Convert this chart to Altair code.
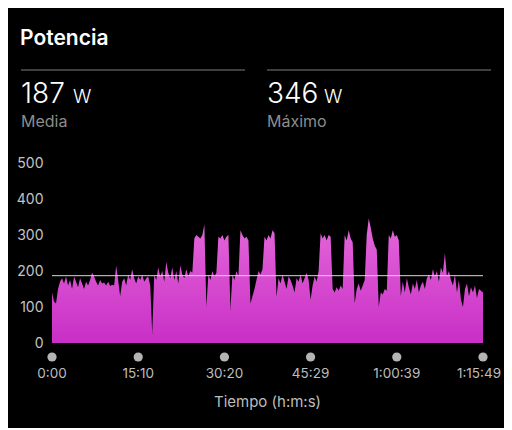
import altair as alt
import pandas as pd

# ---- data ----
total_seconds = 4549
power = [
    140, 115, 110, 150, 170,
    180, 165, 185, 160, 175, 150, 185, 170, 155, 180, 165, 150, 170, 160, 175, 195, 185,
    170, 160, 175, 165, 168, 160, 170, 158, 162, 160, 215,
    175, 130, 170, 180, 160, 190, 175, 205, 180, 165, 185, 175, 190, 170, 180, 185, 160,
    25,
    190, 175, 210, 185, 200, 170, 225, 195, 180, 210, 175, 200, 165, 215, 190, 180, 205, 185, 200, 195,
    290, 300, 295, 290, 300, 330,
    100,
    190, 175, 200, 185, 195,
    295, 290, 300, 285, 295, 300,
    92,
    190, 175, 200, 185,
    313, 300, 290, 295, 285, 110,
    130, 150, 175, 200, 190, 205,
    295, 285, 300, 290, 313, 305,
    128,
    180, 165, 190, 170, 150, 185, 175, 160, 140, 180, 170, 190, 165, 180, 195, 175, 120, 160, 185, 170, 200,
    305, 290, 300, 285, 300, 295,
    150, 140, 155, 145, 160, 150,
    300, 285, 313, 290, 280,
    110,
    150, 165, 145, 160, 175,
    300, 346, 320, 290, 270, 260,
    100,
    140, 135, 150, 145,
    300, 290, 313, 295, 300, 285,
    130, 170, 140, 180, 155, 135, 165, 150, 175, 140, 160, 170, 150, 180,
    190, 175, 205, 185, 200, 170, 210, 195, 250, 185, 200, 175,
    160, 190, 140, 175, 120, 100, 150, 165,
    130, 155, 140, 160, 125, 150, 145, 140,
]
n = len(power)
times = [i * total_seconds / (n - 1) for i in range(n)]

tick_seconds = [0, 910, 1820, 2729, 3639, 4549]
tick_labels = ["0:00", "15:10", "30:20", "45:29", "1:00:39", "1:15:49"]
y_ticks = [0, 100, 200, 300, 400, 500]

mean_power = 187
max_power = 346

df = pd.DataFrame({"t": times, "p": power})
ticks_df = pd.DataFrame({"t": tick_seconds, "label": tick_labels})
mean_df = pd.DataFrame({"p": [mean_power]})

FONT = "Inter"

xscale = alt.Scale(domain=[0, total_seconds], nice=False, zero=False)
yscale = alt.Scale(domain=[0, 500], nice=False)
y_axis = alt.Axis(values=y_ticks, title=None, domain=False, ticks=False,
                  grid=False, labelColor="#c4c4c4", labelFontSize=14,
                  labelFont=FONT, labelPadding=9, labelOverlap=False,
                  labelFlush=False)

area = alt.Chart(df).mark_area(
    color=alt.Gradient(
        gradient="linear",
        stops=[alt.GradientStop(color="#c92fc6", offset=0),
               alt.GradientStop(color="#e468da", offset=1)],
        x1=1, x2=1, y1=1, y2=0,
    ),
    interpolate="linear",
).encode(
    x=alt.X("t:Q", scale=xscale, axis=None),
    y=alt.Y("p:Q", scale=yscale, axis=y_axis),
)

mean_rule = alt.Chart(mean_df).mark_rule(color="#d9d9d9", strokeWidth=1).encode(
    y=alt.Y("p:Q", scale=yscale, axis=y_axis),
)

dots = alt.Chart(ticks_df).mark_circle(color="#b4b4b4", opacity=1, size=85).encode(
    x=alt.X("t:Q", scale=xscale, axis=None),
    y=alt.value(194),
)

tick_text = alt.Chart(ticks_df).mark_text(
    color="#bdbdbd", fontSize=13.5, font=FONT, baseline="middle", align="center"
).encode(
    x=alt.X("t:Q", scale=xscale, axis=None),
    y=alt.value(211),
    text="label:N",
).transform_filter(alt.datum.t < total_seconds)

last_tick_text = alt.Chart(ticks_df).mark_text(
    color="#bdbdbd", fontSize=13.5, font=FONT, baseline="middle", align="center", dx=-4
).encode(
    x=alt.X("t:Q", scale=xscale, axis=None),
    y=alt.value(211),
    text="label:N",
).transform_filter(alt.datum.t >= total_seconds)


def txt(s, x, y, size, color, weight="normal", align="left", baseline="alphabetic"):
    return alt.Chart(pd.DataFrame({"s": [s]})).mark_text(
        color=color, fontSize=size, font=FONT, fontWeight=weight,
        align=align, baseline=baseline,
    ).encode(x=alt.value(x), y=alt.value(y), text="s:N")


def hline(x1, x2, y, color, w):
    return alt.Chart(pd.DataFrame({"a": [0]})).mark_rule(color=color, strokeWidth=w).encode(
        x=alt.value(x1), x2=alt.value(x2), y=alt.value(y)
    )


layers = [
    area, mean_rule, dots, tick_text, last_tick_text,
    txt("Tiempo (h:m:s)", 215.5, 239, 15, "#bdbdbd", align="center", baseline="middle"),
    txt("Potencia", -32, -118, 21, "#ffffff", weight=600),
    hline(-31, 193, -93, "#555555", 1.5),
    hline(215, 439, -93, "#555555", 1.5),
    txt(str(mean_power), -31, -60, 28, "#ffffff", weight=300),
    txt("W", 21, -60, 19, "#ffffff", weight=300),
    txt("Media", -31, -36, 16, "#8c8c8c"),
    txt(str(max_power), 215, -60, 28, "#ffffff", weight=300),
    txt("W", 272, -60, 19, "#ffffff", weight=300),
    txt("Máximo", 215, -36, 16, "#8c8c8c"),
]

chart = alt.layer(*layers).properties(
    width=431,
    height=180,
    autosize=alt.AutoSizeParams(type="none"),
    padding={"left": 44, "top": 155, "right": 21, "bottom": 85},
    background="#000000",
).configure_view(stroke=None)

chart.save("out.html", embed_options={"renderer": "svg", "actions": False})
